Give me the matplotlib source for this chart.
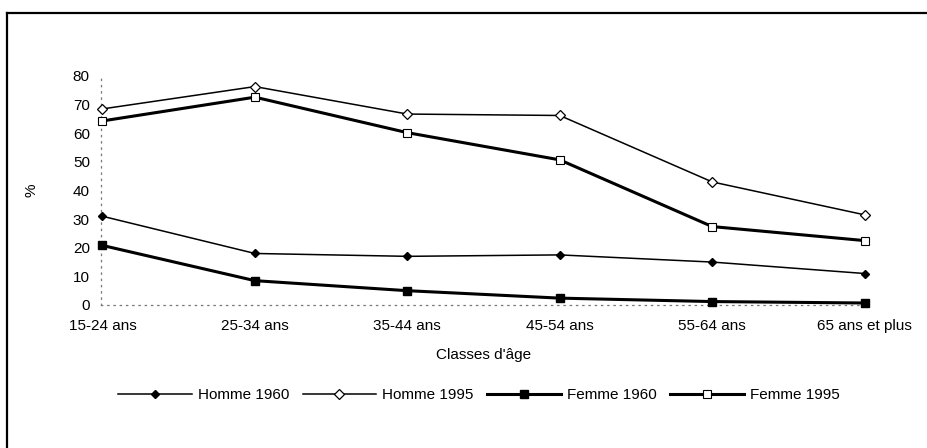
import matplotlib
matplotlib.use("Agg")
from matplotlib import pyplot as plt
from matplotlib.lines import Line2D

plt.rcParams['font.family'] = ['Liberation Sans', 'DejaVu Sans']

# tranches d'âge
classes = ["15-24 ans", "25-34 ans", "35-44 ans", "45-54 ans", "55-64 ans", "65 ans et plus"]

# taux en %
homme_1960 = [31, 18, 17, 17.5, 15, 11]
homme_1995 = [68.5, 76.3, 66.7, 66.2, 43, 31.5]
femme_1960 = [20.8, 8.5, 5, 2.4, 1.2, 0.7]
femme_1995 = [64.3, 72.6, 60.2, 50.7, 27.4, 22.5]

y_ticks = [0, 10, 20, 30, 40, 50, 60, 70, 80]

fig = plt.figure(figsize=(9.28, 4.48), dpi=100)
ax = fig.add_axes([0.1088, 0.3192, 0.8245, 0.5112])

x = list(range(len(classes)))

ax.plot(x, homme_1960, color='black', lw=1.1, marker='D', ms=4.5,
        mfc='black', mec='black', label='Homme 1960', clip_on=False, zorder=3)
ax.plot(x, homme_1995, color='black', lw=1.1, marker='D', ms=5,
        mfc='white', mec='black', mew=0.9, label='Homme 1995', clip_on=False, zorder=3)
ax.plot(x, femme_1960, color='black', lw=2.2, marker='s', ms=6,
        mfc='black', mec='black', label='Femme 1960', clip_on=False, zorder=3)
ax.plot(x, femme_1995, color='black', lw=2.2, marker='s', ms=6,
        mfc='white', mec='black', mew=0.8, label='Femme 1995', clip_on=False, zorder=3)

ax.set_xlim(-0.01, 5.01)
ax.set_ylim(0, 80)
ax.set_yticks(y_ticks)
ax.set_xticks(x)
ax.set_xticklabels(classes)
ax.tick_params(axis='both', length=0, labelsize=11)
ax.tick_params(axis='y', pad=8)
ax.tick_params(axis='x', pad=10)

for side in ['top', 'right']:
    ax.spines[side].set_visible(False)
for side in ['left', 'bottom']:
    ax.spines[side].set_linestyle((0, (1, 4)))
    ax.spines[side].set_color('#777777')
    ax.spines[side].set_linewidth(0.9)

ax.set_xlabel("Classes d'âge", fontsize=11, labelpad=11)
ax.set_ylabel("%", fontsize=11, labelpad=25)

handles, labels = ax.get_legend_handles_labels()
fig.legend(handles, labels, loc='center', bbox_to_anchor=(0.516, 0.118), ncol=4,
           frameon=False, fontsize=11, handlelength=4.8, handletextpad=0.4,
           columnspacing=0.9)

# cadre partiel (gauche et haut)
fig.add_artist(Line2D([0.0075, 0.0075], [0.0, 0.971], color='black', lw=1.6,
                      transform=fig.transFigure))
fig.add_artist(Line2D([0.0075, 1.0], [0.971, 0.971], color='black', lw=1.6,
                      transform=fig.transFigure))

fig.savefig("out.png", dpi=100)
